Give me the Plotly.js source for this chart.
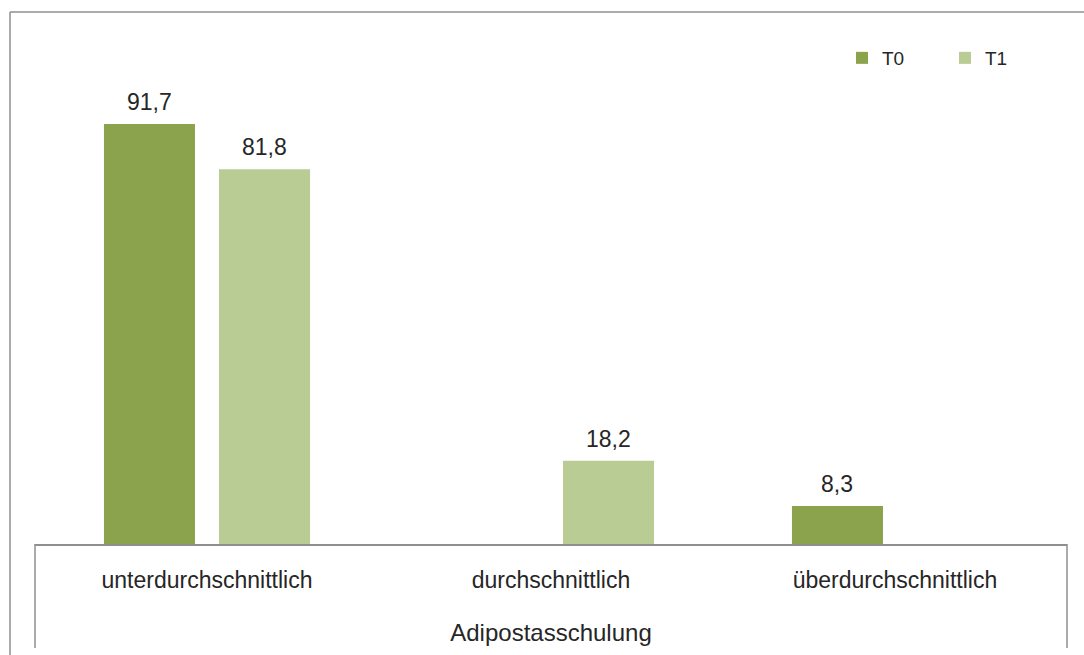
<!DOCTYPE html>
<html>
<head>
<meta charset="utf-8">
<script src="https://cdn.plot.ly/plotly-3.0.1.min.js"></script>
<style>
  html, body { margin: 0; padding: 0; background: #ffffff; }
  #chart { width: 1084px; height: 655px; }
</style>
</head>
<body>
<div id="chart"></div>
<script>
// ---- data ----
const categories = ["unterdurchschnittlich", "durchschnittlich", "überdurchschnittlich"];
const seriesNames = ["T0", "T1"];
const valuesT0 = [91.7, null, 8.3];
const valuesT1 = [81.8, 18.2, null];
const axisTitle = "Adipostasschulung";

// ---- style ----
const colT0 = "#8ba34c";
const colT1 = "#b8cc93";
const lineCol = "#8f8f8f";
const textCol = "#262626";
const fontFam = "Liberation Sans, Arial, sans-serif";

const W = 1084, H = 655;
const M = {l: 35, r: 17, t: 12, b: 111};
const plotW = W - M.l - M.r, plotH = H - M.t - M.b;
const bargap = 0.331, bargroupgap = 0.209;
const catW = plotW / categories.length;
const slotW = catW * (1 - bargap) / 2;

const px2x = p => (p - M.l) / plotW;
const py2y = p => (H - M.b - p) / plotH;

const fmt = v => v.toFixed(1).replace(".", ",");

const traces = [
  {type: "bar", name: seriesNames[0], x: categories, y: valuesT0,
   marker: {color: colT0}, hoverinfo: "none"},
  {type: "bar", name: seriesNames[1], x: categories, y: valuesT1,
   marker: {color: colT1}, hoverinfo: "none"}
];

const annotations = [];
[valuesT0, valuesT1].forEach((vals, si) => {
  vals.forEach((v, i) => {
    if (v === null) return;
    annotations.push({
      x: categories[i], y: v, xref: "x", yref: "y",
      text: fmt(v), showarrow: false,
      xshift: (si === 0 ? -1 : 1) * slotW / 2,
      yanchor: "bottom", yshift: 7,
      font: {family: fontFam, size: 23, color: textCol}
    });
  });
});

const shapes = [
  // outer frame (left and top)
  {type: "line", xref: "paper", yref: "paper", x0: px2x(10), x1: px2x(10), y0: py2y(12), y1: py2y(H),
   line: {color: lineCol, width: 1.5}},
  {type: "line", xref: "paper", yref: "paper", x0: px2x(10), x1: px2x(W), y0: py2y(12), y1: py2y(12),
   line: {color: lineCol, width: 1.5}},
  // category box sides
  {type: "line", xref: "paper", yref: "paper", x0: 0, x1: 0, y0: 0, y1: py2y(648),
   line: {color: lineCol, width: 1.5}},
  {type: "line", xref: "paper", yref: "paper", x0: 1, x1: 1, y0: 0, y1: py2y(648),
   line: {color: lineCol, width: 1.5}}
];

const layout = {
  width: W, height: H,
  margin: M,
  paper_bgcolor: "#ffffff", plot_bgcolor: "#ffffff",
  font: {family: fontFam, color: textCol},
  barmode: "group", bargap: bargap, bargroupgap: bargroupgap,
  showlegend: true,
  legend: {orientation: "h", x: px2x(842), xanchor: "left", y: py2y(39), yanchor: "top",
           font: {family: fontFam, size: 19, color: textCol}, bgcolor: "rgba(0,0,0,0)",
           entrywidth: 58, entrywidthmode: "pixels"},
  xaxis: {type: "category", showline: true, linecolor: lineCol, linewidth: 1.5,
          ticks: "", showgrid: false, zeroline: false, ticklabelstandoff: 15,
          tickfont: {family: fontFam, size: 23, color: textCol},
          title: {text: axisTitle, font: {family: fontFam, size: 24, color: textCol}, standoff: 32}},
  yaxis: {range: [0, plotH / 4.58], visible: false, showgrid: false, zeroline: false, fixedrange: true},
  annotations: annotations,
  shapes: shapes
};

Plotly.newPlot("chart", traces, layout, {displayModeBar: false, staticPlot: true});
</script>
</body>
</html>
